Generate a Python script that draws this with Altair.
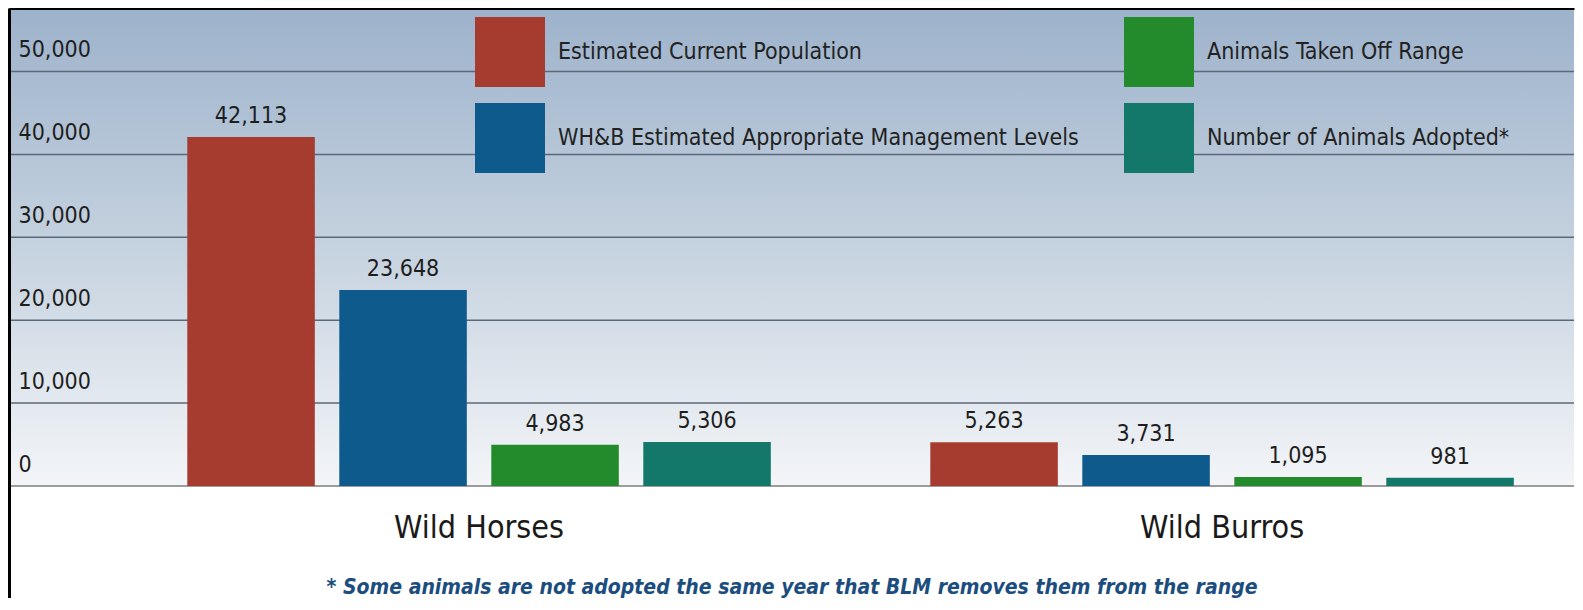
import altair as alt
import pandas as pd

FONT = "DejaVu Sans Condensed, Liberation Sans Narrow, Roboto, sans-serif"

groups = ["Wild Horses", "Wild Burros"]
series = [
    "Estimated Current Population",
    "WH&B Estimated Appropriate Management Levels",
    "Animals Taken Off Range",
    "Number of Animals Adopted*",
]
colors = ["#a63b2f", "#0f5a8c", "#248b2c", "#13786a"]
horses = [42113, 23648, 4983, 5306]
burros = [5263, 3731, 1095, 981]
y_ticks = [0, 10000, 20000, 30000, 40000, 50000]
footnote = "*  Some animals are not adopted the same year that BLM removes them from the range"

rows = []
for g, vals in zip(groups, [horses, burros]):
    for s, v in zip(series, vals):
        rows.append({"group": g, "series": s, "value": v})
df = pd.DataFrame(rows)
grid_df = pd.DataFrame({"tick": y_ticks})

x_scale = alt.Scale(domain=groups, paddingInner=0.1817, paddingOuter=0.144, align=0.776, round=False)
xo_scale = alt.Scale(paddingInner=0.161, paddingOuter=0.0805, round=False)
y_scale = alt.Scale(domain=[-13510, 57660], nice=False, zero=False)

y_axis = alt.Axis(
    title=None, values=y_ticks, labelExpr="format(datum.value, ',')", grid=False, zindex=1,
    ticks=False, domain=True, domainColor="#000000", domainWidth=3,
    labelAlign="left", labelBaseline="middle", labelPadding=-9, labelOffset=-22,
    labelFont=FONT, labelFontSize=23, labelColor="#1e1e1e",
)

bg = alt.Chart(alt.Data(values=[{"v": 0}])).mark_rect(
    fill=alt.Gradient(
        gradient="linear", x1=0, y1=0, x2=0, y2=1,
        stops=[
            alt.GradientStop(offset=0, color="#9db2cb"),
            alt.GradientStop(offset=0.5, color="#c5d2df"),
            alt.GradientStop(offset=1, color="#f3f5f8"),
        ],
    )
).encode(
    x=alt.value(0),
    x2=alt.value("width"),
    y=alt.YDatum(0, type="quantitative", scale=y_scale, axis=y_axis),
    y2=alt.value(0),
)

grid = alt.Chart(grid_df).mark_rule().encode(
    y=alt.Y("tick:Q", scale=y_scale, axis=y_axis),
    color=alt.condition("datum.tick === 0", alt.value("#9c9c9c"), alt.value("#5b6878")),
    strokeWidth=alt.condition("datum.tick === 0", alt.value(2), alt.value(1.5)),
)

base = alt.Chart(df)

bars = base.mark_bar().encode(
    x=alt.X(
        "group:N", scale=x_scale, sort=groups,
        axis=alt.Axis(
            orient="bottom", offset=-112, title=footnote, labelAngle=0,
            domain=False, ticks=False, tickSize=0, grid=False, labelLimit=500,
            labelFont=FONT, labelFontSize=32, labelColor="#1a1a1a",
            labelBaseline="middle", labelPadding=41,
            titleFont=FONT, titleFontSize=21, titleFontStyle="italic",
            titleFontWeight="bold", titleColor="#1b4d7e", titlePadding=33,
        ),
    ),
    xOffset=alt.XOffset("series:N", sort=series, scale=xo_scale),
    y=alt.Y("value:Q", scale=y_scale, axis=y_axis),
    color=alt.Color(
        "series:N",
        scale=alt.Scale(domain=series, range=colors),
        legend=alt.Legend(
            orient="none", legendX=466, legendY=9, columns=2, title=None,
            symbolType="square", symbolSize=4900, symbolStrokeWidth=0, symbolOpacity=1,
            labelFont=FONT, labelFontSize=23, labelColor="#222222", labelOffset=13,
            labelLimit=900, rowPadding=16, columnPadding=45, padding=0,
        ),
    ),
)

labels = base.mark_text(
    baseline="alphabetic", dy=-14, font=FONT, fontSize=23, color="#1e1e1e"
).encode(
    x=alt.X(
        "group:N", scale=x_scale, sort=groups,
        axis=alt.Axis(orient="top", labels=False, ticks=False, title=None, minExtent=0,
                      maxExtent=0, domainColor="#000000", domainWidth=3, grid=False, zindex=1),
    ),
    xOffset=alt.XOffset("series:N", sort=series, scale=xo_scale),
    y=alt.Y("value:Q", scale=y_scale, axis=y_axis),
    text=alt.Text("value:Q", format=","),
)

chart = (
    alt.layer(bg, grid, bars, labels)
    .resolve_axis(x="independent")
    .properties(width=1565, height=590, padding=0, background="#ffffff")
    .configure_view(stroke=None)
)

chart.save("out.html", embed_options={"renderer": "svg", "actions": False})
